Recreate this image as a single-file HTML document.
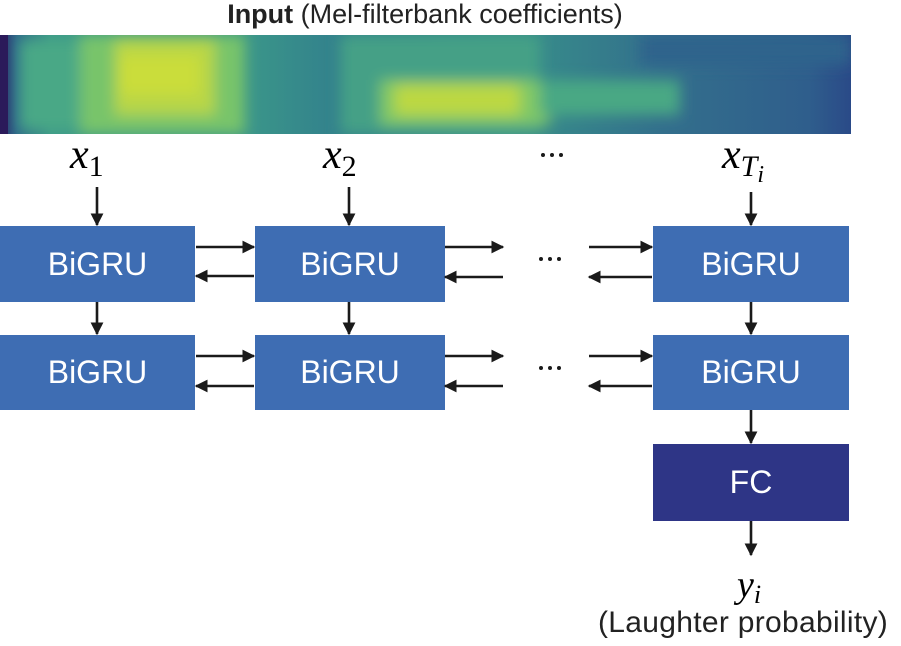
<!DOCTYPE html>
<html><head><style>
body{margin:0;width:901px;height:646px;background:#fff;position:relative;overflow:hidden;font-family:"Liberation Sans","DejaVu Sans",sans-serif;}
.t{position:absolute;white-space:nowrap;}
.box{position:absolute;background:#3e6db3;color:#fff;font-size:32px;display:flex;align-items:center;justify-content:center;}
.m{font-family:"Liberation Serif","DejaVu Serif",serif;font-style:italic;}
</style></head><body>
<div class="t" style="left:0;width:850px;text-align:center;top:-1px;font-size:27px;color:#222"><b>Input</b> (Mel-filterbank coefficients)</div>
<svg style="position:absolute;left:0;top:35px" width="851" height="99">
<defs><filter id="b" x="-20%" y="-50%" width="140%" height="200%"><feGaussianBlur stdDeviation="7"/></filter>
<linearGradient id="g" x1="0" x2="1"><stop offset="0" stop-color="#2a2a6a"/><stop offset="0.02" stop-color="#2f6a8a"/><stop offset="0.06" stop-color="#3d9a88"/><stop offset="0.3" stop-color="#3a948a"/><stop offset="0.4" stop-color="#32808c"/><stop offset="0.6" stop-color="#38908a"/><stop offset="0.78" stop-color="#336f8c"/><stop offset="0.95" stop-color="#2f5e8c"/><stop offset="1" stop-color="#2a4a88"/></linearGradient></defs>
<rect width="851" height="99" fill="url(#g)"/>
<g filter="url(#b)">
<rect x="20" y="5" width="60" height="90" fill="#4aa886"/>
<rect x="80" y="0" width="165" height="99" fill="#78c46a"/>
<rect x="115" y="5" width="100" height="75" fill="#b8d646"/>
<rect x="120" y="20" width="80" height="40" fill="#cadd3a"/>
<rect x="340" y="0" width="200" height="99" fill="#45a086"/>
<rect x="380" y="45" width="170" height="45" fill="#80c866"/>
<rect x="395" y="50" width="125" height="30" fill="#bcd843"/>
<rect x="540" y="45" width="140" height="35" fill="#4aa884"/>
<rect x="640" y="0" width="210" height="30" fill="#2f648c"/>
</g>
<rect x="0" width="8" height="99" fill="#2b1a5a"/>
</svg>
<div class="t m" style="left:70px;top:131px;font-size:42px">x<span style="font-style:normal;font-size:30px;position:relative;top:8px">1</span></div>
<div class="t m" style="left:323px;top:131px;font-size:42px">x<span style="font-style:normal;font-size:30px;position:relative;top:8px">2</span></div>
<div class="t m" style="left:722px;top:131px;font-size:42px">x<span style="font-size:30px;position:relative;top:8px">T<span style="font-size:24px;position:relative;top:6px">i</span></span></div>
<div class="t m" style="left:737px;top:563px;font-size:38px">y<span style="font-size:26px;position:relative;top:6px">i</span></div>
<div class="t" style="left:598px;top:606px;font-size:30px;color:#222;letter-spacing:0.3px">(Laughter probability)</div>
<div class="box" style="left:0;top:226px;width:195px;height:76px">BiGRU</div>
<div class="box" style="left:255px;top:226px;width:190px;height:76px">BiGRU</div>
<div class="box" style="left:653px;top:226px;width:196px;height:76px">BiGRU</div>
<div class="box" style="left:0;top:335px;width:195px;height:75px">BiGRU</div>
<div class="box" style="left:255px;top:335px;width:190px;height:75px">BiGRU</div>
<div class="box" style="left:653px;top:335px;width:196px;height:75px">BiGRU</div>
<div class="box" style="left:653px;top:444px;width:196px;height:77px;background:#2e3586">FC</div>
<svg style="position:absolute;left:0;top:0" width="901" height="646">
<defs><marker id="a" markerWidth="5" markerHeight="5" refX="4.5" refY="2.5" orient="auto" markerUnits="strokeWidth"><path d="M0,0L5,2.5L0,5z" fill="#1a1a1a"/></marker></defs>
<g stroke="#1a1a1a" stroke-width="2.6" marker-end="url(#a)">
<line x1="97" y1="187" x2="97" y2="225"/><line x1="349" y1="187" x2="349" y2="225"/><line x1="751" y1="192" x2="751" y2="225"/>
<line x1="97" y1="302" x2="97" y2="334"/><line x1="349" y1="302" x2="349" y2="334"/><line x1="751" y1="302" x2="751" y2="334"/>
<line x1="751" y1="410" x2="751" y2="443"/><line x1="751" y1="521" x2="751" y2="555"/>
<line x1="196" y1="247" x2="254" y2="247"/><line x1="254" y1="276" x2="196" y2="276"/>
<line x1="196" y1="356" x2="254" y2="356"/><line x1="254" y1="386" x2="196" y2="386"/>
<line x1="445" y1="247" x2="503" y2="247"/><line x1="503" y1="277" x2="445" y2="277"/>
<line x1="445" y1="356" x2="503" y2="356"/><line x1="503" y1="386" x2="445" y2="386"/>
<line x1="589" y1="247" x2="652" y2="247"/><line x1="652" y1="277" x2="589" y2="277"/>
<line x1="589" y1="356" x2="652" y2="356"/><line x1="652" y1="386" x2="589" y2="386"/>
</g>
<g fill="#1a1a1a"><circle cx="543" cy="155" r="2"/><circle cx="552" cy="155" r="2"/><circle cx="561" cy="155" r="2"/>
<circle cx="541" cy="259" r="2"/><circle cx="550" cy="259" r="2"/><circle cx="559" cy="259" r="2"/>
<circle cx="541" cy="368" r="2"/><circle cx="550" cy="368" r="2"/><circle cx="559" cy="368" r="2"/></g>
</svg>
</body></html>
